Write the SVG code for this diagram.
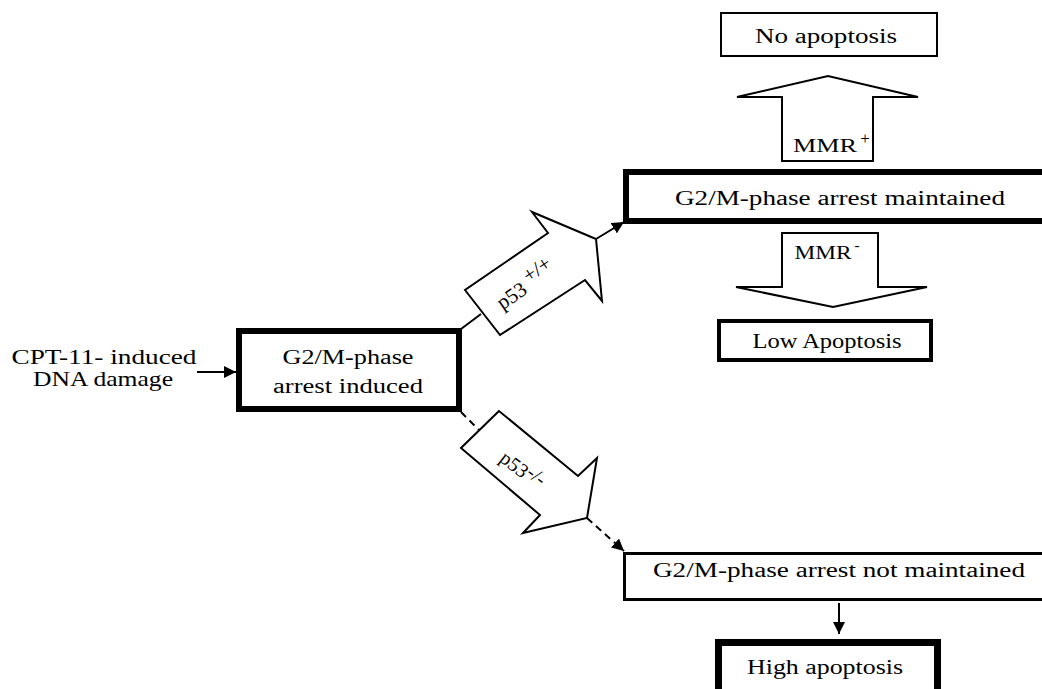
<svg xmlns="http://www.w3.org/2000/svg" width="1042" height="689" viewBox="0 0 1042 689">
<defs>
<style>
text{font-family:"Liberation Serif","Times New Roman",serif;fill:#000;}
.t{font-size:20px;text-anchor:middle;}
.box{fill:#fff;stroke:#000;}
.blk{fill:#fff;stroke:#000;stroke-width:2;stroke-linejoin:miter;}
.ln{fill:none;stroke:#000;stroke-width:2;}
.dash{stroke-dasharray:7 5;}
</style>
<marker id="ah" markerUnits="userSpaceOnUse" markerWidth="14" markerHeight="12" refX="12" refY="6" orient="auto">
<path d="M0,0 L12,6 L0,12 z" fill="#000"/>
</marker>
</defs>
<rect width="1042" height="689" fill="#fff"/>

<g id="connectors">
<line class="ln" x1="197" y1="372" x2="236" y2="372" marker-end="url(#ah)"/>
<line class="ln" x1="461" y1="329" x2="481" y2="314"/>
<line class="ln" x1="596" y1="239" x2="624" y2="222" marker-end="url(#ah)"/>
<line class="ln dash" x1="461" y1="412" x2="479" y2="430"/>
<line class="ln dash" x1="587" y1="518" x2="624" y2="551" marker-end="url(#ah)"/>
<line class="ln" x1="839" y1="603" x2="839" y2="634" marker-end="url(#ah)"/>
</g>

<g id="cpt">
<text x="104" y="364" style="font-size:21px" text-anchor="middle" textLength="185" lengthAdjust="spacingAndGlyphs">CPT-11- induced</text>
<text x="103" y="386" style="font-size:21px" text-anchor="middle" textLength="140" lengthAdjust="spacingAndGlyphs">DNA damage</text>
</g>

<g id="arrest-induced">
<rect class="box" x="239" y="331" width="220" height="78" stroke-width="6"/>
<text class="t" x="348" y="364" textLength="131" lengthAdjust="spacingAndGlyphs">G2/M-phase</text>
<text class="t" x="348" y="393" textLength="150" lengthAdjust="spacingAndGlyphs">arrest induced</text>
</g>

<g id="p53-wt">
<polygon class="blk" points="465,290 500,335 585,280 602,301 596,239 532,212 548,233"/>
<g transform="translate(526,286) rotate(-34)">
<text x="0" y="7" style="font-size:21px" text-anchor="middle">p53 <tspan dy="-8">+/+</tspan></text>
</g>
</g>

<g id="p53-null">
<polygon class="blk" points="499,411 461,448 540,515 523,533 587,518 597,458 578,476"/>
<g transform="translate(522,470) rotate(38)">
<text x="0" y="7" style="font-size:20px" text-anchor="middle">p53<tspan dy="-5">-/-</tspan></text>
</g>
</g>

<g id="arrest-maintained">
<rect class="box" x="626" y="172" width="430" height="49" stroke-width="6"/>
<text class="t" x="840" y="205" textLength="330" lengthAdjust="spacingAndGlyphs">G2/M-phase arrest maintained</text>
</g>

<g id="mmr-plus">
<polygon class="blk" points="782,161 782,97 737,97 828,76 918,97 873,97 873,161"/>
<line class="ln" x1="737" y1="97" x2="782" y2="97" stroke-width="3"/>
<line class="ln" x1="873" y1="97" x2="918" y2="97" stroke-width="3"/>
<text x="825" y="152" style="font-size:18px" text-anchor="middle" textLength="64" lengthAdjust="spacingAndGlyphs">MMR</text>
<text x="865" y="144" style="font-size:17px" text-anchor="middle">+</text>
</g>

<g id="no-apoptosis">
<rect class="box" x="721" y="13" width="216" height="43" stroke-width="2"/>
<text class="t" x="826" y="43" textLength="142" lengthAdjust="spacingAndGlyphs">No apoptosis</text>
</g>

<g id="mmr-minus">
<polygon class="blk" points="782,233 878,233 878,287 927,287 833,307 736,287 782,287"/>
<line class="ln" x1="736" y1="287" x2="782" y2="287" stroke-width="3"/>
<line class="ln" x1="878" y1="287" x2="927" y2="287" stroke-width="3"/>
<text x="823" y="259" style="font-size:18px" text-anchor="middle" textLength="57" lengthAdjust="spacingAndGlyphs">MMR</text>
<text x="857" y="250" style="font-size:15px" text-anchor="middle">-</text>
</g>

<g id="low-apoptosis">
<rect class="box" x="719" y="321" width="212" height="39" stroke-width="4"/>
<text class="t" x="827" y="348" textLength="149" lengthAdjust="spacingAndGlyphs">Low Apoptosis</text>
</g>

<g id="arrest-not-maintained">
<rect class="box" x="624.5" y="553.5" width="430" height="46" stroke-width="3"/>
<text class="t" x="839" y="577" textLength="372" lengthAdjust="spacingAndGlyphs">G2/M-phase arrest not maintained</text>
</g>

<g id="high-apoptosis">
<rect class="box" x="718.5" y="642.5" width="219" height="70" stroke-width="7"/>
<text class="t" x="825" y="674" textLength="156" lengthAdjust="spacingAndGlyphs">High apoptosis</text>
</g>
</svg>
